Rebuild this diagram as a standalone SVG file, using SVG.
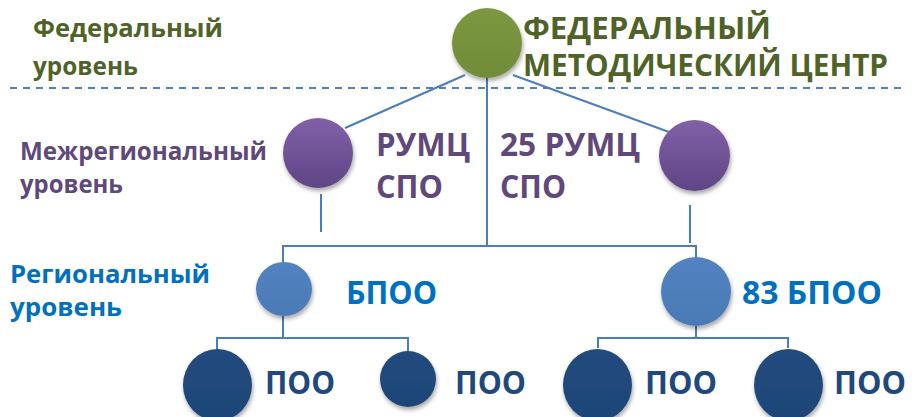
<svg xmlns="http://www.w3.org/2000/svg" width="912" height="417" viewBox="0 0 912 417">
<style>
text{font-family:"Open Sans","Liberation Sans",sans-serif;font-weight:700}
.lv{font-size:25px}
.big{font-size:32px}
.fm{font-size:31px}
.g{fill:#4F6228}
.p{fill:#5F497A}
.b{fill:#0070C0}
.d{fill:#1F497D}
.cn line,.cn polyline{stroke:#4A7EBB;stroke-width:2;fill:none}
</style>
<defs>
<filter id="sh" x="-30%" y="-30%" width="160%" height="170%">
<feDropShadow dx="1" dy="3" stdDeviation="2" flood-color="#000" flood-opacity="0.35"/>
</filter>
<linearGradient id="gp" x1="0" y1="0" x2="0" y2="1">
<stop offset="0" stop-color="#8160A8"/><stop offset="1" stop-color="#5F4585"/>
</linearGradient>
<linearGradient id="gg" x1="0" y1="0" x2="0" y2="1">
<stop offset="0" stop-color="#7B9840"/><stop offset="1" stop-color="#718C39"/>
</linearGradient>
<linearGradient id="gb" x1="0" y1="0" x2="0" y2="1">
<stop offset="0" stop-color="#5283C0"/><stop offset="1" stop-color="#4A7AB6"/>
</linearGradient>
<linearGradient id="gd" x1="0" y1="0" x2="0" y2="1">
<stop offset="0" stop-color="#224B7E"/><stop offset="1" stop-color="#1E4577"/>
</linearGradient>
</defs>
<rect width="912" height="417" fill="#fff"/>
<line x1="10" y1="88" x2="906" y2="88" stroke="#4F81BD" stroke-width="2" stroke-dasharray="7 6"/>
<g id="levels">
<text class="lv g" x="33" y="37" textLength="190" lengthAdjust="spacingAndGlyphs">Федеральный</text>
<text class="lv g" x="33" y="75" textLength="105" lengthAdjust="spacingAndGlyphs">уровень</text>
<text class="lv p" x="20" y="160" textLength="247" lengthAdjust="spacingAndGlyphs">Межрегиональный</text>
<text class="lv p" x="20" y="193" textLength="103" lengthAdjust="spacingAndGlyphs">уровень</text>
<text class="lv b" x="10" y="283" textLength="200" lengthAdjust="spacingAndGlyphs">Региональный</text>
<text class="lv b" x="10" y="316" textLength="112" lengthAdjust="spacingAndGlyphs">уровень</text>
</g>
<g class="cn" id="connectors">
<line x1="465" y1="75" x2="345" y2="128"/>
<line x1="513" y1="75" x2="669" y2="132"/>
<line x1="487" y1="77" x2="487" y2="246"/>
<line x1="321" y1="194" x2="321" y2="232"/>
<line x1="690" y1="205" x2="690" y2="243"/>
<polyline points="283,262 283,246 696,246 696,258"/>
<line x1="283" y1="316" x2="283" y2="338"/>
<polyline points="217,349 217,338 408,338 408,351"/>
<line x1="696" y1="326" x2="696" y2="338"/>
<polyline points="598,348 598,338 788,338 788,348"/>
</g>
<g id="fmc">
<ellipse cx="487" cy="43" rx="35" ry="35" fill="url(#gg)" filter="url(#sh)"/>
<text class="fm g" x="523" y="39" textLength="248" lengthAdjust="spacingAndGlyphs">ФЕДЕРАЛЬНЫЙ</text>
<text class="fm g" x="523" y="76" textLength="365" lengthAdjust="spacingAndGlyphs">МЕТОДИЧЕСКИЙ ЦЕНТР</text>
</g>
<g id="rumc1">
<ellipse cx="318" cy="153" rx="35" ry="35" fill="url(#gp)" filter="url(#sh)"/>
<text class="big p" x="376" y="156" textLength="94" lengthAdjust="spacingAndGlyphs">РУМЦ</text>
<text class="big p" x="376" y="198" textLength="67" lengthAdjust="spacingAndGlyphs">СПО</text>
</g>
<g id="rumc2">
<ellipse cx="694.5" cy="155.5" rx="35.5" ry="35.5" fill="url(#gp)" filter="url(#sh)"/>
<text class="big p" x="500" y="156" textLength="140" lengthAdjust="spacingAndGlyphs">25 РУМЦ</text>
<text class="big p" x="500" y="198" textLength="66" lengthAdjust="spacingAndGlyphs">СПО</text>
</g>
<g id="bpoo1">
<ellipse cx="284" cy="289" rx="28" ry="27" fill="url(#gb)" filter="url(#sh)"/>
<text class="big b" x="346" y="304" textLength="91" lengthAdjust="spacingAndGlyphs">БПОО</text>
</g>
<g id="bpoo2">
<ellipse cx="696" cy="291.5" rx="35" ry="34.5" fill="url(#gb)" filter="url(#sh)"/>
<text class="big b" x="742" y="304" textLength="140" lengthAdjust="spacingAndGlyphs">83 БПОО</text>
</g>
<g id="poo1">
<ellipse cx="217.5" cy="385" rx="34.5" ry="36" fill="url(#gd)" filter="url(#sh)"/>
<text class="big d" x="265" y="394" textLength="70" lengthAdjust="spacingAndGlyphs">ПОО</text>
</g>
<g id="poo2">
<ellipse cx="408" cy="379" rx="28" ry="28" fill="url(#gd)" filter="url(#sh)"/>
<text class="big d" x="455" y="394" textLength="71" lengthAdjust="spacingAndGlyphs">ПОО</text>
</g>
<g id="poo3">
<ellipse cx="597.5" cy="385" rx="34.5" ry="36" fill="url(#gd)" filter="url(#sh)"/>
<text class="big d" x="645" y="394" textLength="72" lengthAdjust="spacingAndGlyphs">ПОО</text>
</g>
<g id="poo4">
<ellipse cx="788.5" cy="385" rx="34.5" ry="36" fill="url(#gd)" filter="url(#sh)"/>
<text class="big d" x="834" y="394" textLength="72" lengthAdjust="spacingAndGlyphs">ПОО</text>
</g>
</svg>
